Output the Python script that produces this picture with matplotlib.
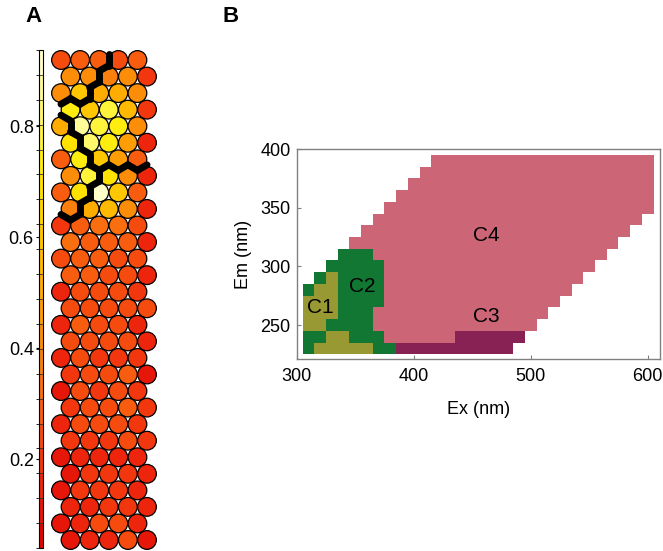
import numpy as np
import matplotlib
matplotlib.use("Agg")
import matplotlib.pyplot as plt
from matplotlib.patches import Circle
from matplotlib.colors import LinearSegmentedColormap, ListedColormap, BoundaryNorm
from matplotlib.collections import LineCollection
from matplotlib.cm import ScalarMappable

plt.rcParams['font.family'] = ['Liberation Sans', 'DejaVu Sans']

# ---------------- Panel A data (SOM component plane, 30 rows x 5 cols) ----------------
som_values = [
    [0.26, 0.28, 0.27, 0.25, 0.27],
    [0.40, 0.40, 0.38, 0.42, 0.18],
    [0.40, 0.60, 0.50, 0.52, 0.42],
    [0.72, 0.62, 0.76, 0.55, 0.18],
    [0.52, 0.88, 0.76, 0.73, 0.42],
    [0.70, 0.83, 0.72, 0.45, 0.15],
    [0.30, 0.72, 0.60, 0.45, 0.30],
    [0.42, 0.78, 0.68, 0.42, 0.15],
    [0.30, 0.70, 0.93, 0.60, 0.30],
    [0.38, 0.50, 0.55, 0.42, 0.17],
    [0.20, 0.30, 0.35, 0.35, 0.22],
    [0.33, 0.30, 0.30, 0.28, 0.15],
    [0.25, 0.27, 0.27, 0.25, 0.22],
    [0.27, 0.28, 0.24, 0.25, 0.15],
    [0.15, 0.25, 0.22, 0.22, 0.20],
    [0.22, 0.25, 0.22, 0.25, 0.24],
    [0.15, 0.27, 0.26, 0.22, 0.16],
    [0.22, 0.25, 0.22, 0.24, 0.16],
    [0.14, 0.22, 0.20, 0.20, 0.20],
    [0.20, 0.26, 0.25, 0.27, 0.12],
    [0.12, 0.26, 0.20, 0.24, 0.18],
    [0.20, 0.22, 0.24, 0.27, 0.20],
    [0.15, 0.22, 0.26, 0.25, 0.20],
    [0.18, 0.20, 0.20, 0.22, 0.20],
    [0.12, 0.15, 0.13, 0.15, 0.14],
    [0.12, 0.18, 0.20, 0.18, 0.15],
    [0.12, 0.18, 0.20, 0.18, 0.14],
    [0.13, 0.15, 0.18, 0.18, 0.14],
    [0.12, 0.17, 0.25, 0.24, 0.14],
    [0.10, 0.13, 0.17, 0.25, 0.12],
]
som_clusters_top = [
    [1, 1, 1, 2, 2],
    [1, 1, 2, 2, 2],
    [1, 1, 2, 2, 2],
    [2, 2, 2, 2, 2],
    [3, 2, 2, 2, 2],
    [3, 2, 2, 2, 2],
    [3, 3, 2, 2, 2],
    [3, 3, 4, 4, 4],
    [3, 3, 4, 4, 4],
    [3, 4, 4, 4, 4],
]
cbar_min, cbar_max = 0.04, 0.937
cbar_ticks = [0.2, 0.4, 0.6, 0.8]
cbar_tick_labels = ["0.2", "0.4", "0.6", "0.8"]
n_colour_steps = 20

# ---------------- Panel B data (EEM regions) ----------------
em_rows = [230, 240, 250, 260, 270, 280, 290, 300, 310, 320, 330, 340, 350, 360, 370, 380, 390]
# (cluster, first Ex, last Ex) per emission row, 10 nm steps
em_segments = [
    [(2, 310, 310), (1, 320, 360), (2, 370, 380), (3, 390, 480)],
    [(2, 310, 320), (1, 330, 340), (2, 350, 370), (4, 380, 430), (3, 440, 490)],
    [(1, 310, 320), (2, 330, 360), (4, 370, 500)],
    [(1, 310, 330), (2, 340, 360), (4, 370, 510)],
    [(1, 310, 330), (2, 340, 370), (4, 380, 520)],
    [(2, 310, 310), (1, 320, 330), (2, 340, 370), (4, 380, 530)],
    [(2, 320, 320), (1, 330, 330), (2, 340, 370), (4, 380, 540)],
    [(2, 330, 370), (4, 380, 550)],
    [(2, 340, 360), (4, 370, 560)],
    [(4, 350, 570)],
    [(4, 360, 580)],
    [(4, 370, 590)],
    [(4, 380, 600)],
    [(4, 390, 600)],
    [(4, 400, 600)],
    [(4, 410, 600)],
    [(4, 420, 600)],
]
ex_step = 10
cluster_names = ["C1", "C2", "C3", "C4"]
cluster_colors = ["#999933", "#117733", "#882255", "#CC6677"]
label_ex = [320, 356, 462, 462]
label_em = [265, 283, 257, 326]

# ---------------- figure ----------------
W, H = 663, 551
fig = plt.figure(figsize=(W / 100, H / 100), dpi=100)

def px_axes(x0, y0, x1, y1):
    return fig.add_axes([x0 / W, 1 - y1 / H, (x1 - x0) / W, (y1 - y0) / H])

# colormap red -> orange -> yellow -> white
nodes = [
    (0.04, (0.86, 0.00, 0.00)),
    (0.15, (0.93, 0.14, 0.05)),
    (0.25, (0.97, 0.31, 0.06)),
    (0.38, (0.98, 0.50, 0.05)),
    (0.50, (1.00, 0.66, 0.00)),
    (0.62, (1.00, 0.80, 0.00)),
    (0.72, (1.00, 0.92, 0.00)),
    (0.82, (1.00, 0.97, 0.38)),
    (0.937, (1.00, 1.00, 0.88)),
]
span = cbar_max - cbar_min
base = LinearSegmentedColormap.from_list(
    "ryw", [((v - cbar_min) / span, c) for v, c in nodes])
disc = ListedColormap(base((np.arange(n_colour_steps) + 0.5) / n_colour_steps))
bounds = np.linspace(cbar_min, cbar_max, n_colour_steps + 1)
norm = BoundaryNorm(bounds, n_colour_steps)

# ---- Panel A ----
axA = px_axes(40, 40, 170, 551)
axA.set_xlim(-1.099, 5.704)
axA.set_ylim(-25.69, 1.0466)
axA.axis("off")

vals = np.array(som_values)
nrow, ncol = vals.shape
clusters = np.full((nrow, ncol), 4)
clusters[:len(som_clusters_top)] = np.array(som_clusters_top)
h = np.sqrt(3) / 2

def centre(r, c):
    return c + 0.5 * (r % 2), -r * h

def neighbours(r, c):
    out = [(r, c + 1)]
    if r % 2 == 0:
        out += [(r + 1, c - 1), (r + 1, c)]
    else:
        out += [(r + 1, c), (r + 1, c + 1)]
    return [(a, b) for a, b in out if 0 <= a < nrow and 0 <= b < ncol]

segs = []
for r in range(nrow):
    for c in range(ncol):
        for (a, b) in neighbours(r, c):
            if clusters[a, b] != clusters[r, c]:
                x1, y1 = centre(r, c)
                x2, y2 = centre(a, b)
                mx, my = (x1 + x2) / 2, (y1 + y2) / 2
                dx, dy = x2 - x1, y2 - y1
                L = np.hypot(dx, dy)
                px_, py_ = -dy / L, dx / L
                hl = 1 / (2 * np.sqrt(3))
                segs.append([(mx - px_ * hl, my - py_ * hl), (mx + px_ * hl, my + py_ * hl)])

for r in range(nrow):
    for c in range(ncol):
        x, y = centre(r, c)
        col = disc(norm(vals[r, c]))
        axA.add_patch(Circle((x, y), 0.49, facecolor=col, edgecolor="black", linewidth=0.9))

lc = LineCollection(segs, colors="black", linewidths=5.0, capstyle="round",
                    joinstyle="round", zorder=5)
axA.add_collection(lc)

# colorbar
cax = px_axes(38.7, 50, 42.7, 548)
sm = ScalarMappable(norm=norm, cmap=disc)
cb = fig.colorbar(sm, cax=cax, boundaries=bounds, ticks=cbar_ticks, drawedges=True)
cb.dividers.set_linewidth(0.6)
cb.dividers.set_color("#333333")
cb.outline.set_linewidth(0.8)
cax.yaxis.set_ticks_position("left")
cax.yaxis.set_label_position("left")
cax.set_yticklabels(cbar_tick_labels)
cax.tick_params(axis="y", labelsize=13, length=2, width=0.8, pad=1.5)

fig.text(34 / W, 1 - 17 / H, "A", ha="center", va="center", fontsize=16, fontweight="bold")
fig.text(231 / W, 1 - 17 / H, "B", ha="center", va="center", fontsize=16, fontweight="bold")

# ---- Panel B ----
axB = px_axes(296.7, 149, 660, 359.3)
ex_centres = np.arange(310, 601, ex_step)
Z = np.full((len(em_rows), len(ex_centres)), np.nan)
for i, row in enumerate(em_segments):
    for (k, e0, e1) in row:
        for j, e in enumerate(ex_centres):
            if e0 <= e <= e1:
                Z[i, j] = k
x_edges = np.append(ex_centres - ex_step / 2, ex_centres[-1] + ex_step / 2)
em_arr = np.array(em_rows)
y_edges = np.append(em_arr - 5, em_arr[-1] + 5)
axB.pcolormesh(x_edges, y_edges, np.ma.masked_invalid(Z),
               cmap=ListedColormap(cluster_colors),
               norm=BoundaryNorm([0.5, 1.5, 2.5, 3.5, 4.5], 4),
               shading="flat", edgecolors="none", antialiased=False)
for name, ex, em in zip(cluster_names, label_ex, label_em):
    axB.text(ex, em, name, ha="center", va="center", fontsize=15, color="black")

axB.set_xlim(300, 610.5)
axB.set_ylim(220.8, 400)
axB.set_xticks([300, 400, 500, 600])
axB.set_yticks([250, 300, 350, 400])
for s in axB.spines.values():
    s.set_color("#808080")
    s.set_linewidth(1.0)
axB.tick_params(direction="in", length=3, width=0.8, color="#808080", labelsize=13)
axB.tick_params(axis="x", pad=6.5)
axB.tick_params(axis="y", pad=4.5)
axB.set_xlabel("Ex (nm)", fontsize=13, labelpad=11)
axB.set_ylabel("Em (nm)", fontsize=13, labelpad=6)

fig.savefig("out.png", dpi=100)
